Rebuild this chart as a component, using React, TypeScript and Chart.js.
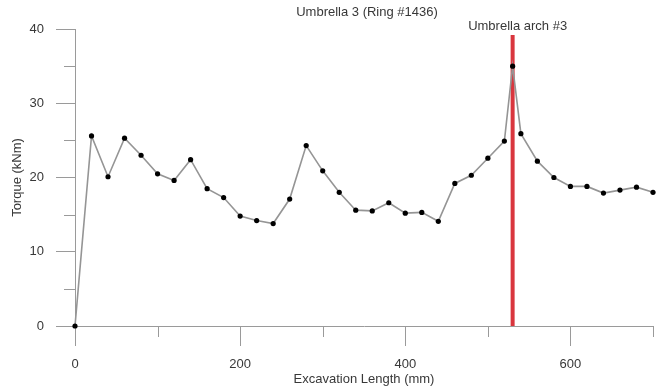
import React, { useEffect, useRef } from 'react';
import { Chart, registerables } from 'chart.js';

Chart.register(...registerables);

// ---- data ----
const xMm = [
  0, 20, 40, 60, 80, 100, 120, 140, 160, 180,
  200, 220, 240, 260, 280, 300, 320, 340, 360, 380,
  400, 420, 440, 460, 480, 500, 520, 530, 540, 560,
  580, 600, 620, 640, 660, 680, 700,
];
const torque = [
  0, 25.6, 20.1, 25.3, 23.0, 20.5, 19.6, 22.4, 18.5, 17.3,
  14.8, 14.2, 13.8, 17.1, 24.3, 20.9, 18.0, 15.6, 15.5, 16.6,
  15.2, 15.3, 14.1, 19.2, 20.3, 22.6, 24.9, 35.0, 25.9, 22.2,
  20.0, 18.8, 18.8, 17.9, 18.3, 18.7, 18.0,
];
const archX = 530;
const archY = [0, 39.2];
const xMajorTicks = [0, 200, 400, 600];
const xMinorTicks = [100, 300, 500, 700];
const yMajorTicks = [0, 10, 20, 30, 40];
const yMinorTicks = [5, 15, 25, 35];

const chartTitle = 'Umbrella 3 (Ring #1436)';
const archLabel = 'Umbrella arch #3';
const xTitle = 'Excavation Length (mm)';
const yTitle = 'Torque (kNm)';

const FONT = '"Liberation Sans", Arial, sans-serif';
const AXIS = '#9a9a9a';
const TEXT = '#383838';

const annotPlugin = {
  id: 'annot',
  afterDraw(chart: any) {
    const { ctx, chartArea, scales } = chart;
    const x = scales.x;
    const y = scales.y;
    ctx.save();
    ctx.strokeStyle = AXIS;
    ctx.lineWidth = 1;
    xMinorTicks.forEach((v) => {
      const px = Math.round(x.getPixelForValue(v)) + 0.5;
      ctx.beginPath();
      ctx.moveTo(px, chartArea.bottom);
      ctx.lineTo(px, chartArea.bottom + 11);
      ctx.stroke();
    });
    yMinorTicks.forEach((v) => {
      const py = Math.round(y.getPixelForValue(v)) + 0.5;
      ctx.beginPath();
      ctx.moveTo(chartArea.left, py);
      ctx.lineTo(chartArea.left - 11, py);
      ctx.stroke();
    });
    ctx.fillStyle = TEXT;
    ctx.font = `13px ${FONT}`;
    ctx.textAlign = 'center';
    ctx.textBaseline = 'middle';
    ctx.fillText(chartTitle, (chartArea.left + chartArea.right) / 2 + 3, 12.5);
    ctx.fillText(archLabel, x.getPixelForValue(archX) + 5, 26);
    ctx.restore();
  },
};

export default function App() {
  const ref = useRef<HTMLCanvasElement | null>(null);
  useEffect(() => {
    if (!ref.current) return;
    const chart = new Chart(ref.current, {
      type: 'scatter',
      data: {
        datasets: [
          {
            data: xMm.map((v, i) => ({ x: v, y: torque[i] })),
            showLine: true,
            borderColor: '#959595',
            borderWidth: 1.6,
            pointRadius: 2.6,
            pointBackgroundColor: '#000',
            pointBorderColor: '#000',
            pointBorderWidth: 0,
            clip: false,
            order: 1,
          },
          {
            data: archY.map((v) => ({ x: archX, y: v })),
            showLine: true,
            borderColor: '#d9363e',
            borderWidth: 4,
            pointRadius: 0,
            clip: false,
            order: 2,
          },
        ],
      },
      options: {
        responsive: false,
        animation: false,
        devicePixelRatio: 1,
        layout: { padding: { top: 29, right: 11, left: 0, bottom: 0 } },
        plugins: {
          legend: { display: false },
          tooltip: { enabled: false },
          title: { display: false },
        },
        scales: {
          x: {
            type: 'linear',
            min: 0,
            max: 700,
            afterBuildTicks: (s: any) => {
              s.ticks = xMajorTicks.map((v) => ({ value: v }));
            },
            afterFit: (s: any) => {
              s.height = 66;
            },
            grid: {
              drawOnChartArea: false,
              drawTicks: true,
              tickLength: 20,
              color: AXIS,
              tickColor: AXIS,
            },
            border: { display: true, color: AXIS, width: 1 },
            ticks: {
              padding: 11,
              color: TEXT,
              font: { family: FONT, size: 13 },
              maxRotation: 0,
              autoSkip: false,
            },
            title: {
              display: true,
              text: xTitle,
              color: TEXT,
              font: { family: FONT, size: 13 },
              padding: { top: 0, bottom: 5 },
            },
          },
          y: {
            type: 'linear',
            min: 0,
            max: 40,
            afterBuildTicks: (s: any) => {
              s.ticks = yMajorTicks.map((v) => ({ value: v }));
            },
            afterFit: (s: any) => {
              s.width = 75;
            },
            grid: {
              drawOnChartArea: false,
              drawTicks: true,
              tickLength: 19,
              color: AXIS,
              tickColor: AXIS,
            },
            border: { display: true, color: AXIS, width: 1 },
            ticks: {
              padding: 12,
              color: TEXT,
              font: { family: FONT, size: 13 },
              autoSkip: false,
            },
            title: {
              display: true,
              text: yTitle,
              color: TEXT,
              font: { family: FONT, size: 13 },
              padding: { top: 10, bottom: 0 },
            },
          },
        },
      },
      plugins: [annotPlugin],
    } as any);
    return () => chart.destroy();
  }, []);
  return (
    <div style={{ position: 'absolute', left: 0, top: 0, width: 664, height: 392, background: '#fff' }}>
      <canvas ref={ref} width={664} height={392} />
    </div>
  );
}
